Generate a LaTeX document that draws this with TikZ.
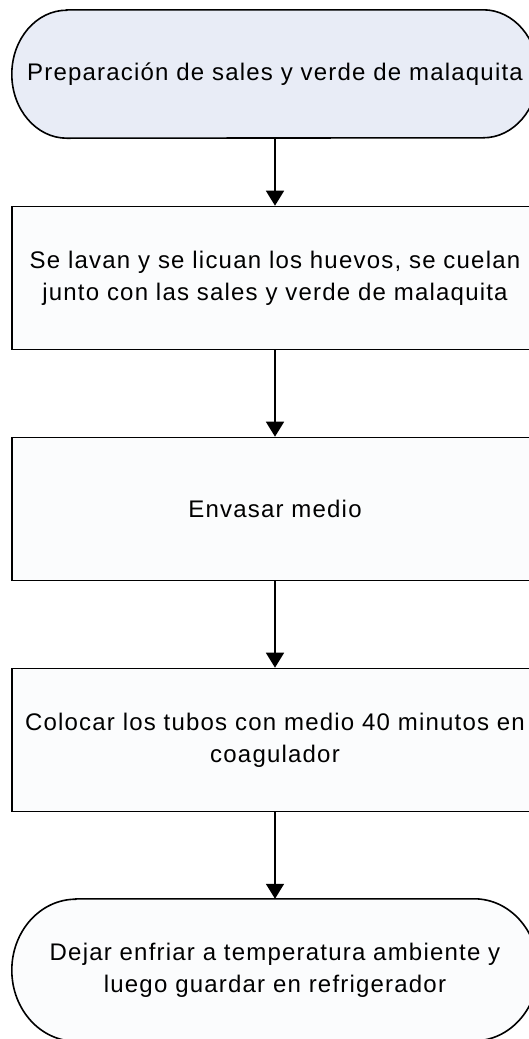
\documentclass[tikz,border=0pt]{standalone}
\usepackage{fontspec}
\setmainfont[LetterSpace=5]{Liberation Sans}
\usetikzlibrary{arrows.meta,backgrounds}
\definecolor{termblue}{RGB}{232,236,246}
\definecolor{boxwhite}{RGB}{251,252,253}

\tikzset{
  procbox/.style={rectangle, draw, line width=1.6pt, fill=boxwhite,
    minimum width=526pt, minimum height=143pt, inner sep=0pt,
    align=center, font=\fontsize{24}{32}\selectfont},
  termtext/.style={rectangle, minimum width=526pt, minimum height=128pt,
    inner sep=0pt, align=center, font=\fontsize{24}{32}\selectfont},
  outline/.style={line width=1.6pt},
  flow/.style={line width=1.6pt, -{Triangle[length=15pt,width=18pt]}},
}

\begin{document}
\begin{tikzpicture}[x=1pt,y=1pt]
  % page -----------------------------------------------------------------------
  \useasboundingbox (0,0) rectangle (528,-1039);

  % steps ----------------------------------------------------------------------
  \node[termtext] (prep) at (275,-74) {Preparación de sales y verde de malaquita};
  \node[procbox] (wash) at (275,-278)
        {Se lavan y se licuan los huevos, se cuelan\\junto con las sales y verde de malaquita};
  \node[procbox] (pour) at (275,-509) {Envasar medio};
  \node[procbox] (coag) at (275,-740)
        {Colocar los tubos con medio 40 minutos en\\coagulador};
  \node[termtext,minimum height=142pt] (cool) at (275,-970)
        {Dejar enfriar a temperatura ambiente y\\luego guardar en refrigerador};

  % terminal outlines ----------------------------------------------------------
  \begin{scope}[on background layer]
    \filldraw[outline,fill=termblue]
          ([xshift=55pt]prep.north west) -- ([xshift=-55pt]prep.north east)
          arc[start angle=90,end angle=-90,x radius=55pt,y radius=64pt]
          -- ([xshift=55pt]prep.south west)
          arc[start angle=270,end angle=90,x radius=55pt,y radius=64pt] -- cycle;
    \filldraw[outline,fill=boxwhite]
          ([xshift=64pt]cool.north west) -- ([xshift=-64pt]cool.north east)
          arc[start angle=90,end angle=-90,x radius=64pt,y radius=71pt]
          -- ([xshift=64pt]cool.south west)
          arc[start angle=270,end angle=90,x radius=64pt,y radius=71pt] -- cycle;
  \end{scope}

  % arrows ---------------------------------------------------------------------
  \draw[flow] (prep) -- (wash);
  \draw[flow] (wash) -- (pour);
  \draw[flow] (pour) -- (coag);
  \draw[flow] (coag) -- (cool);
\end{tikzpicture}
\end{document}
